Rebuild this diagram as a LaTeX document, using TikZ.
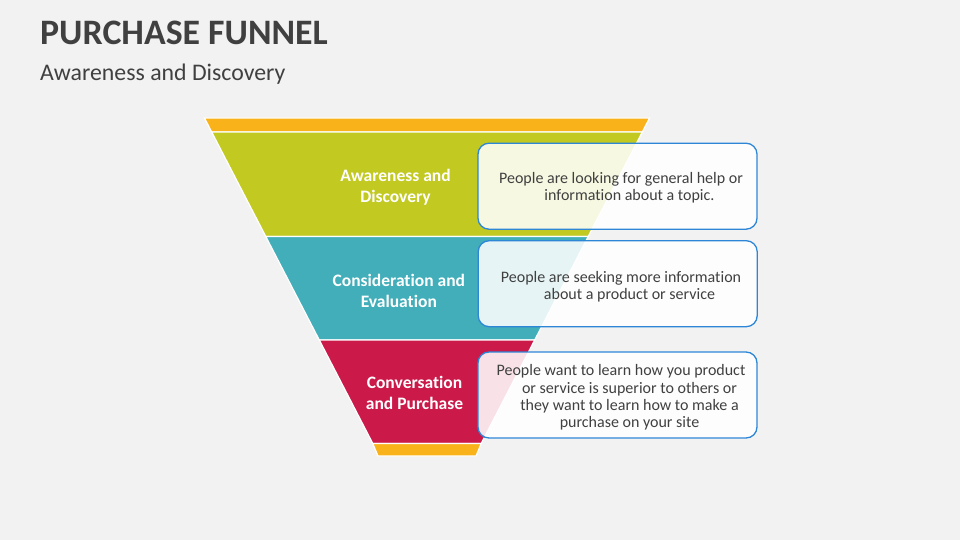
\documentclass[tikz,border=0pt]{standalone}
\usepackage{fontspec}
\setmainfont{Carlito}[Ligatures=NoCommon]
\definecolor{bgc}{RGB}{242,242,242}
\definecolor{titlec}{RGB}{64,64,64}
\definecolor{orangec}{RGB}{250,178,26}
\definecolor{greenc}{RGB}{194,201,33}
\definecolor{tealc}{RGB}{65,174,185}
\definecolor{crimsonc}{RGB}{203,26,74}
\definecolor{bluec}{RGB}{46,134,214}
\begin{document}
\begin{tikzpicture}[x=1pt,y=-1pt,
  band/.style={draw=white, line width=1.2pt},
  bandlabel/.style={text=white, align=center, inner sep=0pt,
    font=\bfseries\fontsize{17.5}{21}\selectfont},
  descbox/.style={draw=bluec, line width=1.3pt, fill=white, fill opacity=0.87,
    rounded corners=11pt, minimum width=279pt, minimum height=86pt, inner sep=0pt},
  desctext/.style={text=titlec, align=center, inner sep=0pt,
    font=\fontsize{16}{17.4}\selectfont}]
\useasboundingbox[fill=bgc] (0,0) rectangle (960,540);

\node[anchor=base west, inner sep=0pt, text=titlec,
  font=\bfseries\fontsize{35.8}{42}\selectfont] (title) at (40,45) {PURCHASE FUNNEL};
\node[anchor=base west, inner sep=0pt, text=titlec,
  font=\fontsize{23.8}{28}\selectfont] (subtitle) at (40,81) {Awareness and Discovery};

% funnel bands
\filldraw[band, fill=orangec] (204.5,118) -- (649.5,118) -- (642.3,132) -- (211.7,132) -- cycle;
\filldraw[band, fill=greenc] (211.7,132) -- (642.3,132) -- (588.2,236.5) -- (265.8,236.5) -- cycle;
\filldraw[band, fill=tealc] (265.8,236.5) -- (588.2,236.5) -- (534.7,340) -- (319.3,340) -- cycle;
\filldraw[band, fill=crimsonc] (319.3,340) -- (534.7,340) -- (481.2,443.5) -- (372.8,443.5) -- cycle;
\filldraw[band, fill=orangec] (372.8,443.5) -- (481.2,443.5) -- (476,456) -- (378,456) -- cycle;

% band labels
\node[bandlabel] (l1) at (395.5,187.5) {Awareness and\\Discovery};
\node[bandlabel] (l2) at (398.8,290.5) {Consideration and\\Evaluation};
\node[bandlabel] (l3) at (414.5,392.5) {Conversation\\and Purchase};

% description boxes
\node[descbox] (b1) at (617.5,186.2) {};
\node[descbox] (b2) at (617.7,283.7) {};
\node[descbox] (b3) at (617.5,395) {};

\node[desctext] (t1) at (629.5,188) {People are looking for general help or\kern17pt\\information about a topic.};
\node[desctext] (t2) at (629.5,286.5) {People are seeking more information\kern17pt\\about a product or service};
\node[desctext] (t3) at (629.5,397.5) {People want to learn how you product\kern17pt\\or service is superior to others or\\they want to learn how to make a\\purchase on your site};
\end{tikzpicture}
\end{document}
